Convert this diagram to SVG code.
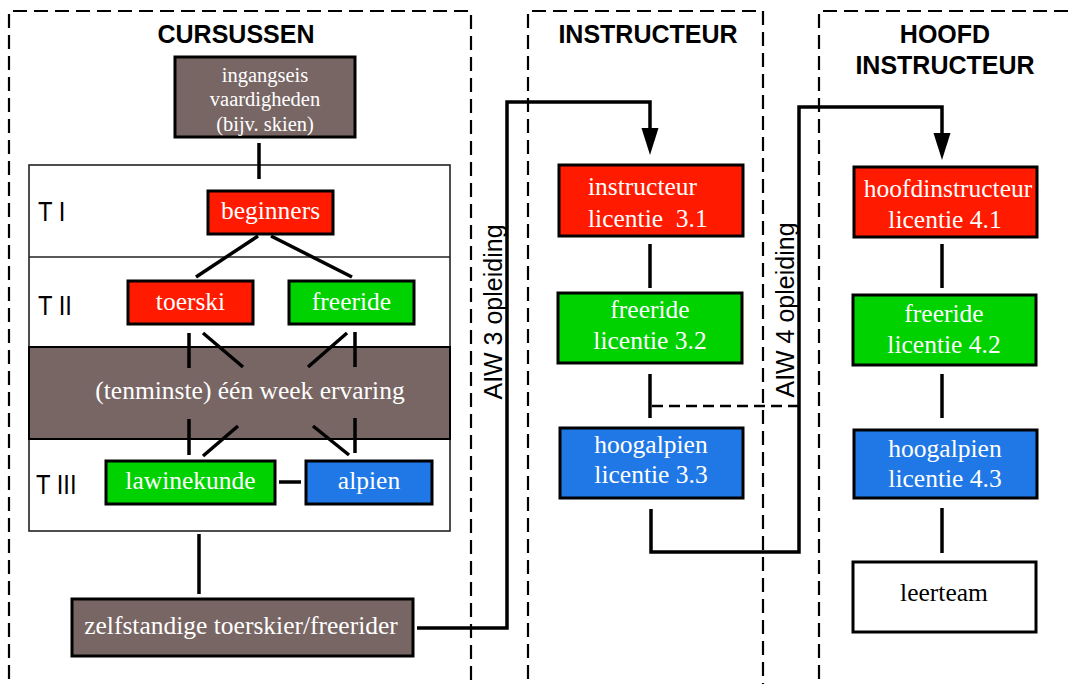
<svg xmlns="http://www.w3.org/2000/svg" width="1072" height="684" viewBox="0 0 1072 684">
<defs>
<style>
.frame{fill:none;stroke:#000;stroke-width:2.2;stroke-dasharray:14 7}
.title{font-family:"Liberation Sans",Arial,sans-serif;font-weight:bold;font-size:25px;fill:#000;text-anchor:middle}
.tier{font-family:"Liberation Sans",Arial,sans-serif;font-size:28px;fill:#000}
.side{font-family:"Liberation Sans",Arial,sans-serif;font-size:25px;fill:#000;text-anchor:middle}
.box{stroke:#000;stroke-width:3}
.brown{fill:#786664}
.red{fill:#ff1a00}
.green{fill:#00d200}
.blue{fill:#1f78e6}
.white{fill:#fff}
.lbl{font-family:"Liberation Serif","Times New Roman",serif;font-size:25.5px;fill:#fff;text-anchor:middle}
.small{font-size:20.5px}
.dark{fill:#000}
.conn{fill:none;stroke:#000;stroke-width:3.5}
.thin{fill:none;stroke:#222;stroke-width:1.6}
</style>
</defs>
<rect width="1072" height="684" fill="#fff"/>

<g id="frames">
<path class="frame" d="M9,700 V11 H471 V700"/>
<path class="frame" d="M528,700 V11 H763 V700"/>
<path class="frame" d="M819,700 V11 H1080"/>
<text class="title" x="236" y="43">CURSUSSEN</text>
<text class="title" x="648" y="43">INSTRUCTEUR</text>
<text class="title" x="945" y="43">HOOFD</text>
<text class="title" x="945" y="74">INSTRUCTEUR</text>
</g>

<g id="table">
<rect class="thin" x="29" y="165" width="421" height="366"/>
<line class="thin" x1="29" y1="257" x2="450" y2="257"/>
<text class="tier" transform="translate(38,221) scale(0.85,1)">T I</text>
<text class="tier" transform="translate(38,315) scale(0.85,1)">T II</text>
<text class="tier" transform="translate(36,494) scale(0.85,1)">T III</text>
</g>

<g id="ervaring">
<rect class="brown" stroke="#000" stroke-width="2" x="29" y="347" width="421" height="92"/>
<text class="lbl" x="250" y="399">(tenminste) één week ervaring</text>
</g>

<g id="connectors">
<line class="conn" x1="259" y1="143" x2="259" y2="179"/>
<line class="conn" x1="258" y1="236" x2="196" y2="277"/>
<line class="conn" x1="271" y1="236" x2="352" y2="277"/>
<line class="conn" x1="189" y1="333" x2="189" y2="368"/>
<line class="conn" x1="203" y1="333" x2="243" y2="367"/>
<line class="conn" x1="355" y1="332" x2="355" y2="367"/>
<line class="conn" x1="347" y1="333" x2="308" y2="367"/>
<line class="conn" x1="189" y1="419" x2="189" y2="455"/>
<line class="conn" x1="238" y1="426" x2="203" y2="456"/>
<line class="conn" x1="355" y1="418" x2="355" y2="453"/>
<line class="conn" x1="313" y1="426" x2="349" y2="455"/>
<line class="conn" x1="279" y1="482" x2="301" y2="482"/>
<line class="conn" x1="199" y1="534" x2="199" y2="594"/>
<polyline class="conn" points="417,628 507,628 507,102 650,102 650,128" />
<polygon points="641.5,128 658.5,128 650,155" fill="#000"/>
<line class="conn" x1="650" y1="244" x2="650" y2="288"/>
<line class="conn" x1="650" y1="374" x2="650" y2="418"/>
<line fill="none" stroke="#000" stroke-width="2.5" stroke-dasharray="11 6" x1="652" y1="406" x2="798" y2="406"/>
<polyline class="conn" points="651,509 651,552 799,552 799,107 942,107 942,133"/>
<polygon points="933.5,133 950.5,133 942,160" fill="#000"/>
<line class="conn" x1="942" y1="244" x2="942" y2="288"/>
<line class="conn" x1="942" y1="374" x2="942" y2="418"/>
<line class="conn" x1="942" y1="508" x2="942" y2="553"/>
<text class="side" transform="translate(502,312) rotate(-90)">AIW 3 opleiding</text>
<text class="side" transform="translate(794,310) rotate(-90)">AIW 4 opleiding</text>
</g>

<g id="ingangseis">
<rect class="box brown" x="175" y="57" width="180" height="80"/>
<text class="lbl small" x="265" y="82">ingangseis</text>
<text class="lbl small" x="265" y="106">vaardigheden</text>
<text class="lbl small" x="265" y="131">(bijv. skien)</text>
</g>
<g id="beginners">
<rect class="box red" x="208" y="191" width="125" height="43"/>
<text class="lbl" x="270.5" y="219">beginners</text>
</g>
<g id="toerski">
<rect class="box red" x="128" y="281" width="125" height="43"/>
<text class="lbl" x="190.5" y="310">toerski</text>
</g>
<g id="freeride">
<rect class="box green" x="289" y="281" width="125" height="43"/>
<text class="lbl" x="351.5" y="310">freeride</text>
</g>
<g id="lawinekunde">
<rect class="box green" x="106" y="461" width="169" height="43"/>
<text class="lbl" x="190.5" y="489">lawinekunde</text>
</g>
<g id="alpien">
<rect class="box blue" x="306" y="461" width="126" height="43"/>
<text class="lbl" x="369" y="489">alpien</text>
</g>
<g id="zelfstandige">
<rect class="box brown" x="72" y="599" width="341" height="57"/>
<text class="lbl" x="241" y="634">zelfstandige toerskier/freerider</text>
</g>

<g id="lic31">
<rect class="box red" x="559" y="165" width="184" height="71"/>
<text class="lbl" x="588" y="195" style="text-anchor:start">instructeur</text>
<text class="lbl" x="588" y="227" style="text-anchor:start;white-space:pre" xml:space="preserve">licentie  3.1</text>
</g>
<g id="lic32">
<rect class="box green" x="558" y="293" width="184" height="70"/>
<text class="lbl" x="650" y="318">freeride</text>
<text class="lbl" x="650" y="349">licentie 3.2</text>
</g>
<g id="lic33">
<rect class="box blue" x="560" y="428" width="183" height="70"/>
<text class="lbl" x="651" y="453">hoogalpien</text>
<text class="lbl" x="651" y="483">licentie 3.3</text>
</g>

<g id="lic41">
<rect class="box red" x="854" y="167" width="183" height="70"/>
<text class="lbl" x="948" y="197">hoofdinstructeur</text>
<text class="lbl" x="945" y="228">licentie 4.1</text>
</g>
<g id="lic42">
<rect class="box green" x="853" y="295" width="183" height="70"/>
<text class="lbl" x="944" y="322">freeride</text>
<text class="lbl" x="944" y="353">licentie 4.2</text>
</g>
<g id="lic43">
<rect class="box blue" x="854" y="430" width="183" height="68"/>
<text class="lbl" x="945" y="457">hoogalpien</text>
<text class="lbl" x="945" y="487">licentie 4.3</text>
</g>
<g id="leerteam">
<rect class="box white" x="853" y="562" width="183" height="70"/>
<text class="lbl dark" x="944" y="601">leerteam</text>
</g>
</svg>
